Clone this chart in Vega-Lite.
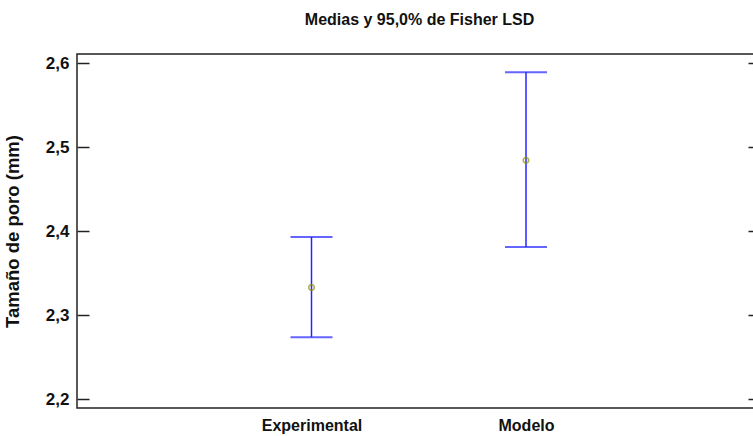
{
  "$schema": "https://vega.github.io/schema/vega-lite/v6.json",
  "width": 677,
  "height": 354,
  "autosize": "none",
  "padding": {"left": 77, "top": 54, "right": 0, "bottom": 28},
  "background": "white",
  "title": {
    "text": "Medias y 95,0% de Fisher LSD",
    "font": "Liberation Sans",
    "fontSize": 16,
    "fontWeight": "bold",
    "color": "#111",
    "anchor": "middle",
    "baseline": "alphabetic",
    "offset": 13,
    "dx": 4
  },
  "data": {
    "values": [
      {"grupo": "Experimental", "media": 2.3329, "inferior": 2.2737, "superior": 2.3931},
      {"grupo": "Modelo", "media": 2.4845, "inferior": 2.3811, "superior": 2.5896}
    ]
  },
  "config": {
    "font": "Liberation Sans",
    "view": {"stroke": "#222", "strokeWidth": 1.5}
  },
  "encoding": {
    "x": {
      "field": "grupo",
      "type": "nominal",
      "sort": null,
      "scale": {"type": "point", "range": [234.5, 449], "padding": 0},
      "axis": {
        "orient": "bottom",
        "title": null,
        "domain": false,
        "ticks": false,
        "grid": false,
        "labelAngle": 0,
        "labelFont": "Liberation Sans",
        "labelFontSize": 16,
        "labelFontWeight": "bold",
        "labelColor": "#111",
        "labelPadding": 9
      }
    }
  },
  "resolve": {"axis": {"y": "independent"}},
  "layer": [
    {
      "mark": {"type": "rule", "color": "#2424ff", "strokeWidth": 1.5},
      "encoding": {
        "y": {
          "field": "inferior",
          "type": "quantitative",
          "scale": {"domain": [2.1893, 2.6113], "zero": false, "nice": false},
          "axis": {
            "orient": "left",
            "title": "Tamaño de poro (mm)",
            "titleFont": "Liberation Sans",
            "titleFontSize": 18.5,
            "titleFontWeight": "bold",
            "titleColor": "#111",
            "titlePadding": 23,
            "values": [2.2, 2.3, 2.4, 2.5, 2.6],
            "labelExpr": "replace(format(datum.value, '.1f'), '.', ',')",
            "labelFont": "Liberation Sans",
            "labelFontSize": 17,
            "labelFontWeight": "bold",
            "labelColor": "#111",
            "labelPadding": 20,
            "domain": false,
            "grid": false,
            "tickSize": -12,
            "tickWidth": 1.5,
            "tickColor": "#222"
          }
        },
        "y2": {"field": "superior"}
      }
    },
    {
      "mark": {"type": "tick", "color": "#2424ff", "size": 42, "thickness": 2},
      "encoding": {
        "y": {
          "field": "superior",
          "type": "quantitative",
          "scale": {"domain": [2.1893, 2.6113], "zero": false, "nice": false},
          "axis": {
            "orient": "right",
            "title": null,
            "values": [2.2, 2.3, 2.4, 2.5, 2.6],
            "labels": false,
            "domain": false,
            "grid": false,
            "tickSize": -6,
            "tickWidth": 1.5,
            "tickColor": "#222"
          }
        }
      }
    },
    {
      "mark": {"type": "tick", "color": "#2424ff", "size": 42, "thickness": 2},
      "encoding": {
        "y": {
          "field": "inferior",
          "type": "quantitative",
          "scale": {"domain": [2.1893, 2.6113], "zero": false, "nice": false},
          "axis": null
        }
      }
    },
    {
      "mark": {"type": "point", "shape": "circle", "filled": false, "color": "#8f8f00", "size": 30, "strokeWidth": 1.5},
      "encoding": {
        "y": {
          "field": "media",
          "type": "quantitative",
          "scale": {"domain": [2.1893, 2.6113], "zero": false, "nice": false},
          "axis": null
        }
      }
    }
  ]
}
